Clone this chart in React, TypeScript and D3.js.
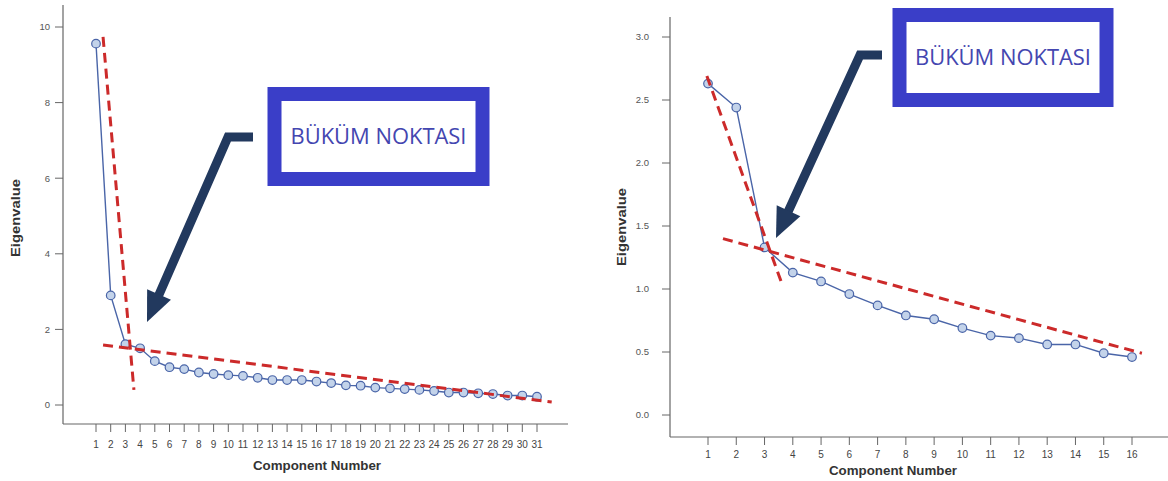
import React from "react";
import * as d3 from "d3";

const leftComponents = d3.range(1, 32);
const leftEigen = [9.56, 2.9, 1.61, 1.5, 1.16, 1.0, 0.95, 0.86, 0.82, 0.79, 0.77, 0.72, 0.66, 0.66, 0.66, 0.62, 0.58, 0.52, 0.51, 0.46, 0.44, 0.42, 0.4, 0.37, 0.33, 0.33, 0.31, 0.29, 0.25, 0.25, 0.22];
const leftYTicks = [0, 2, 4, 6, 8, 10];
const leftSteep = [[1.48, 9.74], [3.58, 0.4]];
const leftShallow = [[1.48, 1.59], [32.0, 0.08]];

const rightComponents = d3.range(1, 17);
const rightEigen = [2.63, 2.44, 1.33, 1.13, 1.06, 0.96, 0.87, 0.79, 0.76, 0.69, 0.63, 0.61, 0.56, 0.56, 0.49, 0.46];
const rightYTicks = [0, 0.5, 1.0, 1.5, 2.0, 2.5, 3.0];
const rightSteep = [[0.96, 2.69], [3.65, 1.02]];
const rightShallow = [[1.53, 1.4], [16.35, 0.49]];

const annotationText = "BÜKÜM NOKTASI";

const BLUE_LINE = "#4a65a8";
const MARKER_FILL = "#c3d3ea";
const RED = "#cc2a2a";
const NAVY = "#22395e";
const BOX_BLUE = "#3a3ec8";
const AXIS = "#666";

type PanelProps = {
  comps: number[];
  vals: number[];
  yTicks: number[];
  yFmt: (v: number) => string;
  xRange: [number, number];
  yDomainMax: number;
  yRange: [number, number];
  axisX: number;
  axisY: number;
  axisTop: number;
  axisRight: number;
  steep: number[][];
  shallow: number[][];
  yLabelX: number;
  yLabelY: number;
  yTickGap: number;
  xLabelX: number;
  xLabelY: number;
  tickLabelY: number;
  box: { x: number; y: number; w: number; h: number };
  arrow: { hx: number; cx: number; cy: number; tx: number; ty: number };
};

function Arrow({ hx, cx, cy, tx, ty }: { hx: number; cx: number; cy: number; tx: number; ty: number }) {
  const dx = tx - cx;
  const dy = ty - cy;
  const len = Math.sqrt(dx * dx + dy * dy);
  const ux = dx / len;
  const uy = dy / len;
  const headLen = 30;
  const halfW = 13;
  const bx = tx - ux * headLen;
  const by = ty - uy * headLen;
  const px = -uy;
  const py = ux;
  return (
    <g>
      <polyline
        points={`${hx},${cy} ${cx},${cy} ${bx + ux * 4},${by + uy * 4}`}
        fill="none"
        stroke={NAVY}
        strokeWidth={9}
        strokeLinejoin="miter"
      />
      <polygon
        points={`${tx},${ty} ${bx + px * halfW},${by + py * halfW} ${bx - px * halfW},${by - py * halfW}`}
        fill={NAVY}
      />
    </g>
  );
}

function Panel(p: PanelProps) {
  const x = d3.scaleLinear().domain([p.comps[0], p.comps[p.comps.length - 1]]).range(p.xRange);
  const y = d3.scaleLinear().domain([0, p.yDomainMax]).range(p.yRange);
  const line = d3.line<number>().x((_, i) => x(p.comps[i])).y((d) => y(d));
  const seg = (s: number[][]) => ({ x1: x(s[0][0]), y1: y(s[0][1]), x2: x(s[1][0]), y2: y(s[1][1]) });
  const st = seg(p.steep);
  const sh = seg(p.shallow);
  const font = "'Liberation Sans', Arial, sans-serif";
  return (
    <g>
      <line x1={p.axisX} x2={p.axisX} y1={p.axisTop} y2={p.axisY} stroke={AXIS} strokeWidth={1.2} />
      <line x1={p.axisX} x2={p.axisRight} y1={p.axisY} y2={p.axisY} stroke={AXIS} strokeWidth={1.2} />
      {p.yTicks.map((t) => (
        <g key={"y" + t}>
          <line x1={p.axisX - 8} x2={p.axisX} y1={y(t)} y2={y(t)} stroke={AXIS} strokeWidth={1} />
          <text x={p.axisX - p.yTickGap} y={y(t)} dy="0.35em" textAnchor="end" fontSize={9.5} fill="#555" fontFamily={font}>
            {p.yFmt(t)}
          </text>
        </g>
      ))}
      {p.comps.map((c) => (
        <g key={"x" + c}>
          <line x1={x(c)} x2={x(c)} y1={p.axisY} y2={p.axisY + 8} stroke={AXIS} strokeWidth={1} />
          <text x={x(c)} y={p.tickLabelY} dy="0.35em" textAnchor="middle" fontSize={10} fill="#444" fontFamily={font}>
            {c}
          </text>
        </g>
      ))}
      <text
        x={p.xLabelX}
        y={p.xLabelY}
        dy="0.35em"
        textAnchor="middle"
        fontSize={13}
        fontWeight="bold"
        fill="#333"
        fontFamily={font}
        textLength={128}
        lengthAdjust="spacingAndGlyphs"
      >
        Component Number
      </text>
      <text
        transform={`translate(${p.yLabelX},${p.yLabelY}) rotate(-90)`}
        dy="0.35em"
        textAnchor="middle"
        fontSize={12}
        fontWeight="bold"
        fill="#333"
        fontFamily={font}
        textLength={78}
        lengthAdjust="spacingAndGlyphs"
      >
        Eigenvalue
      </text>
      <path d={line(p.vals) || ""} fill="none" stroke={BLUE_LINE} strokeWidth={1.4} />
      {p.vals.map((v, i) => (
        <circle key={"p" + i} cx={x(p.comps[i])} cy={y(v)} r={4.3} fill={MARKER_FILL} stroke={BLUE_LINE} strokeWidth={1.2} />
      ))}
      <line {...st} stroke={RED} strokeWidth={3} strokeDasharray="10,6" />
      <line {...sh} stroke={RED} strokeWidth={3} strokeDasharray="10,6" />
      <Arrow {...p.arrow} />
      <rect x={p.box.x + 6.5} y={p.box.y + 7} width={p.box.w - 13} height={p.box.h - 14} fill="#fff" stroke={BOX_BLUE} strokeWidth={14} />
      <text
        x={p.box.x + p.box.w / 2}
        y={p.box.y + p.box.h / 2}
        dy="0.35em"
        textAnchor="middle"
        fontSize={21}
        fill="#4446b0"
        fontFamily="'Open Sans', 'Noto Sans', sans-serif"
        textLength={176}
        lengthAdjust="spacingAndGlyphs"
      >
        {annotationText}
      </text>
    </g>
  );
}

export default function App() {
  return (
    <svg width={1168} height={481} style={{ position: "absolute", left: 0, top: 0, background: "#fff" }}>
      <rect width={1168} height={481} fill="#fff" />
      <Panel
        comps={leftComponents}
        vals={leftEigen}
        yTicks={leftYTicks}
        yFmt={(v) => String(v)}
        xRange={[96, 537]}
        yDomainMax={10}
        yRange={[405, 27]}
        axisX={63}
        axisY={424}
        axisTop={5}
        axisRight={568}
        steep={leftSteep}
        shallow={leftShallow}
        yLabelX={16}
        yLabelY={218}
        yTickGap={13}
        xLabelX={317}
        xLabelY={465}
        tickLabelY={444}
        box={{ x: 268, y: 87, w: 221, h: 99 }}
        arrow={{ hx: 253, cx: 228, cy: 137, tx: 147, ty: 322 }}
      />
      <Panel
        comps={rightComponents}
        vals={rightEigen}
        yTicks={rightYTicks}
        yFmt={(v) => v.toFixed(1)}
        xRange={[708, 1132]}
        yDomainMax={3}
        yRange={[415, 37]}
        axisX={670}
        axisY={437}
        axisTop={17}
        axisRight={1168}
        steep={rightSteep}
        shallow={rightShallow}
        yLabelX={622}
        yLabelY={227}
        yTickGap={21}
        xLabelX={893}
        xLabelY={470}
        tickLabelY={454}
        box={{ x: 893, y: 8, w: 220, h: 99 }}
        arrow={{ hx: 882, cx: 860, cy: 55, tx: 776, ty: 238 }}
      />
    </svg>
  );
}
